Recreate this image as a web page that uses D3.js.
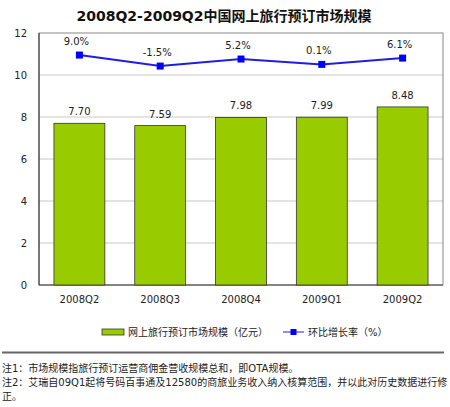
<!DOCTYPE html>
<html><head><meta charset="utf-8">
<script src="https://cdn.jsdelivr.net/npm/d3@7"></script>
<style>body{margin:0;background:#fff}svg{display:block}</style>
</head><body>
<script>
const categories = ["2008Q2","2008Q3","2008Q4","2009Q1","2009Q2"];
const marketSize = [7.70, 7.59, 7.98, 7.99, 8.48];
const growthRate = [9.0, -1.5, 5.2, 0.1, 6.1];
const yTicks = [0, 2, 4, 6, 8, 10, 12];
const title = "2008Q2-2009Q2中国网上旅行预订市场规模";
const legendBar = "网上旅行预订市场规模（亿元）";
const legendLine = "环比增长率（%）";
const notes = ["注1：市场规模指旅行预订运营商佣金营收规模总和，即OTA规模。",
  "注2：艾瑞自09Q1起将号码百事通及12580的商旅业务收入纳入核算范围，并以此对历史数据进行修",
  "正。"];

const W = 450, H = 407;
const font = "'DejaVu Sans', 'Noto Sans CJK SC', sans-serif";
const svg = d3.select("body").append("svg").attr("width", W).attr("height", H)
  .style("font-family", font);
const m = {l: 39, r: 443, t: 33, b: 285};
const x = d3.scaleBand().domain(categories).range([m.l, m.r]).paddingInner(0.37).paddingOuter(0.185);
const y = d3.scaleLinear().domain([0, 12]).range([m.b, m.t]);
const y2 = d3.scaleLinear().domain([-210, 30]).range([m.b, m.t]);

svg.append("text").attr("x", 224).attr("y", 21).attr("text-anchor", "middle")
  .attr("font-size", 14).attr("font-weight", "bold").attr("fill", "#111").text(title);

// grid
svg.append("g").selectAll("line").data(yTicks.filter(d => d > 0 && d < 12)).join("line")
  .attr("x1", m.l).attr("x2", m.r).attr("y1", d => y(d)).attr("y2", d => y(d))
  .attr("stroke", "#c8c8c8").attr("stroke-width", 1);
// frame
svg.append("rect").attr("x", m.l).attr("y", m.t).attr("width", m.r - m.l).attr("height", m.b - m.t)
  .attr("fill", "none").attr("stroke", "#888").attr("stroke-width", 1);
svg.append("line").attr("x1", m.l).attr("x2", m.r).attr("y1", m.b).attr("y2", m.b)
  .attr("stroke", "#444").attr("stroke-width", 1.2);
svg.append("line").attr("x1", m.l).attr("x2", m.l).attr("y1", m.t).attr("y2", m.b)
  .attr("stroke", "#444").attr("stroke-width", 1.2);

// y axis labels
const yAxis = d3.axisLeft(y).tickValues(yTicks).tickSize(0).tickPadding(12);
const ga = svg.append("g").attr("transform", `translate(${m.l},0)`).call(yAxis);
ga.select(".domain").remove();
ga.selectAll("text").attr("font-size", 10).attr("fill", "#222").attr("font-family", font);

// x axis labels
const xAxis = d3.axisBottom(x).tickSize(0).tickPadding(11);
const gx = svg.append("g").attr("transform", `translate(0,${m.b})`).call(xAxis);
gx.select(".domain").remove();
gx.selectAll("text").attr("font-size", 10).attr("fill", "#222").attr("font-family", font);

// bars
svg.append("g").selectAll("rect").data(marketSize).join("rect")
  .attr("x", (d, i) => x(categories[i])).attr("width", x.bandwidth())
  .attr("y", d => y(d)).attr("height", d => m.b - y(d))
  .attr("fill", "#99cc00").attr("stroke", "#333").attr("stroke-width", 0.8);
svg.append("g").selectAll("text").data(marketSize).join("text")
  .attr("x", (d, i) => x(categories[i]) + x.bandwidth() / 2).attr("y", d => y(d) - 8)
  .attr("text-anchor", "middle").attr("font-size", 10).attr("fill", "#222")
  .text(d => d.toFixed(2));

// line
const cx = (i) => x(categories[i]) + x.bandwidth() / 2;
svg.append("path").datum(growthRate)
  .attr("d", d3.line().x((d, i) => cx(i)).y(d => y2(d)))
  .attr("fill", "none").attr("stroke", "#1f1fe0").attr("stroke-width", 2);
svg.append("g").selectAll("rect").data(growthRate).join("rect")
  .attr("x", (d, i) => cx(i) - 3.5).attr("y", d => y2(d) - 3.5)
  .attr("width", 7).attr("height", 7).attr("fill", "#0000ff");
svg.append("g").selectAll("text").data(growthRate).join("text")
  .attr("x", (d, i) => cx(i) - 3).attr("y", d => y2(d) - 10)
  .attr("text-anchor", "middle").attr("font-size", 10).attr("fill", "#222")
  .text(d => d.toFixed(1) + "%");

// legend
const lg = svg.append("g");
lg.append("rect").attr("x", 102).attr("y", 329).attr("width", 22).attr("height", 6)
  .attr("fill", "#99cc00").attr("stroke", "#333").attr("stroke-width", 0.8);
lg.append("text").attr("x", 128).attr("y", 336).attr("font-size", 10).attr("fill", "#222").text(legendBar);
lg.append("line").attr("x1", 283).attr("x2", 304).attr("y1", 332).attr("y2", 332)
  .attr("stroke", "#1f1fe0").attr("stroke-width", 1);
lg.append("rect").attr("x", 290.5).attr("y", 329).attr("width", 6).attr("height", 6).attr("fill", "#0000ff");
lg.append("text").attr("x", 308).attr("y", 336).attr("font-size", 10).attr("fill", "#222").text(legendLine);

// separator
svg.append("line").attr("x1", 2).attr("x2", 444).attr("y1", 352.5).attr("y2", 352.5)
  .attr("stroke", "#666").attr("stroke-width", 2);

// notes
svg.append("g").selectAll("text").data(notes).join("text")
  .attr("x", 2).attr("y", (d, i) => 372 + i * 14)
  .attr("font-size", 10).attr("fill", "#222").text(d => d);
</script>
</body></html>
